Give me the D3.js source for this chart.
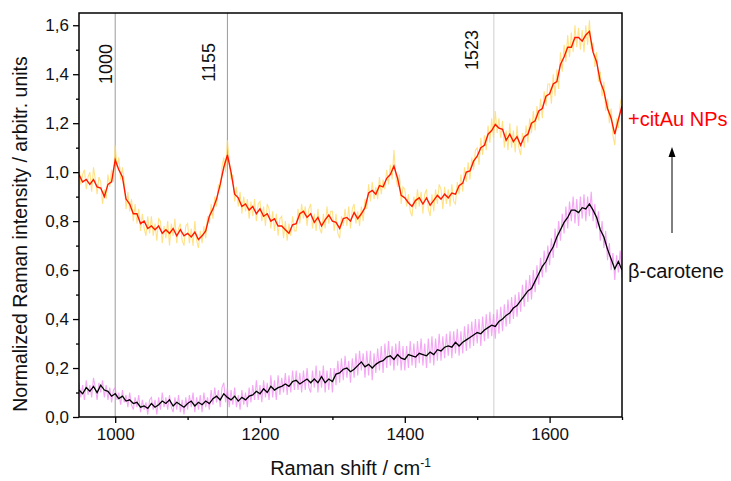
<!DOCTYPE html>
<html>
<head>
<meta charset="utf-8">
<script src="https://cdn.jsdelivr.net/npm/d3@7"></script>
<style>
  body { margin: 0; background: #fff; }
  svg { display: block; }
  text { font-family: "Liberation Sans", Arial, sans-serif; }
</style>
</head>
<body>
<svg id="chart" width="731" height="481"></svg>
<script>
// Sampling grids (cm-1): raw spectra every 2.5 cm-1, smoothed traces every 5 cm-1
const rawShift = d3.range(950, 1700.1, 2.5);
const smoothShift = d3.range(950, 1700.1, 5);

// beta-carotene + citrate-capped Au nanoparticles: raw spectrum
const citAuRaw = [
  1.03,0.95,0.99,1.01,0.93,0.98,1.00,0.92,1.02,0.97,0.91,0.98,0.96,0.87,0.93,0.89,0.99,0.94,1.01,0.96,
  1.11,1.02,1.06,0.97,1.02,0.96,0.85,0.92,0.84,0.89,0.80,0.87,0.79,0.85,0.76,0.83,0.77,0.74,0.82,0.75,
  0.82,0.74,0.79,0.72,0.81,0.80,0.71,0.78,0.73,0.80,0.70,0.79,0.74,0.81,0.71,0.77,0.79,0.72,0.70,0.78,
  0.79,0.71,0.77,0.70,0.80,0.72,0.69,0.76,0.71,0.78,0.73,0.82,0.79,0.87,0.81,0.90,0.86,0.95,0.93,1.02,
  1.06,1.00,1.13,1.05,0.97,0.99,0.88,0.94,0.86,0.92,0.83,0.90,0.84,0.89,0.81,0.88,0.82,0.89,0.80,0.87,
  0.88,0.80,0.86,0.78,0.87,0.85,0.77,0.84,0.76,0.83,0.74,0.81,0.82,0.73,0.80,0.72,0.79,0.74,0.82,0.76,
  0.76,0.85,0.79,0.87,0.81,0.86,0.78,0.85,0.87,0.77,0.83,0.76,0.85,0.77,0.75,0.83,0.77,0.86,0.79,0.84,
  0.84,0.76,0.83,0.75,0.73,0.82,0.78,0.85,0.78,0.86,0.77,0.85,0.87,0.79,0.84,0.78,0.86,0.80,0.89,0.85,
  0.95,0.88,0.96,0.89,0.94,0.89,0.98,0.91,0.97,0.93,1.01,0.95,1.03,0.97,1.09,0.98,0.94,0.99,0.87,0.94,
  0.93,0.86,0.91,0.84,0.82,0.90,0.85,0.93,0.86,0.92,0.83,0.91,0.93,0.85,0.82,0.91,0.84,0.93,0.87,0.95,
  0.93,0.85,0.94,0.87,0.93,0.86,0.95,0.88,0.87,0.96,0.91,0.99,0.92,1.02,0.96,1.04,0.97,1.06,1.01,1.09,
  1.10,1.03,1.14,1.07,1.15,1.09,1.19,1.12,1.22,1.14,1.25,1.16,1.22,1.14,1.21,1.10,1.17,1.09,1.20,1.10,
  1.17,1.08,1.19,1.10,1.07,1.16,1.10,1.19,1.12,1.22,1.16,1.25,1.17,1.27,1.21,1.30,1.22,1.33,1.27,1.36,
  1.36,1.28,1.40,1.31,1.42,1.34,1.49,1.41,1.52,1.45,1.56,1.47,1.57,1.49,1.60,1.51,1.59,1.50,1.58,1.49,
  1.60,1.52,1.62,1.50,1.53,1.43,1.49,1.37,1.41,1.31,1.37,1.25,1.30,1.20,1.26,1.15,1.11,1.22,1.18,1.28,
  1.31
];
// beta-carotene + citrate-capped Au nanoparticles: smoothed trace
const citAuSmooth = [
  0.99,0.96,0.97,0.95,0.97,0.94,0.935,0.90,0.95,0.96,
  1.05,1.01,0.98,0.89,0.87,0.83,0.83,0.79,0.80,0.77,
  0.78,0.765,0.78,0.75,0.765,0.75,0.77,0.74,0.765,0.74,
  0.75,0.735,0.755,0.725,0.74,0.76,0.82,0.85,0.89,0.95,
  1.02,1.07,1.00,0.91,0.895,0.86,0.87,0.845,0.86,0.83,
  0.85,0.82,0.83,0.80,0.81,0.78,0.78,0.765,0.75,0.785,
  0.79,0.83,0.84,0.815,0.83,0.795,0.815,0.78,0.805,0.825,
  0.80,0.795,0.77,0.81,0.815,0.80,0.835,0.81,0.83,0.855,
  0.915,0.925,0.91,0.945,0.94,0.975,0.99,1.025,0.975,0.905,
  0.895,0.875,0.86,0.885,0.895,0.87,0.895,0.865,0.885,0.905,
  0.89,0.91,0.895,0.915,0.91,0.945,0.955,1.00,1.005,1.045,
  1.065,1.10,1.11,1.155,1.17,1.195,1.18,1.175,1.13,1.155,
  1.125,1.145,1.11,1.145,1.155,1.20,1.21,1.25,1.26,1.31,
  1.32,1.36,1.37,1.44,1.47,1.51,1.51,1.55,1.55,1.535,
  1.56,1.575,1.49,1.45,1.37,1.33,1.26,1.22,1.155,1.215,
  1.27
];

// pure beta-carotene: raw spectrum
const caroteneRaw = [
  0.14,0.08,0.13,0.07,0.15,0.09,0.13,0.08,0.16,0.12,0.07,0.14,0.10,0.15,0.08,0.13,0.07,0.12,0.06,0.11,
  0.12,0.07,0.10,0.05,0.11,0.06,0.09,0.04,0.10,0.05,0.03,0.08,0.04,0.09,0.02,0.07,0.03,0.06,0.01,0.07,
  0.08,0.03,0.07,0.01,0.08,0.03,0.10,0.04,0.08,0.03,0.09,0.04,0.02,0.08,0.03,0.09,0.02,0.07,0.01,0.08,
  0.03,0.09,0.04,0.10,0.02,0.08,0.03,0.09,0.02,0.10,0.04,0.08,0.03,0.11,0.05,0.12,0.06,0.11,0.04,0.12,
  0.14,0.06,0.12,0.04,0.11,0.05,0.12,0.04,0.09,0.03,0.11,0.05,0.10,0.04,0.12,0.06,0.13,0.07,0.15,0.07,
  0.13,0.06,0.15,0.08,0.14,0.07,0.17,0.08,0.15,0.07,0.17,0.09,0.16,0.10,0.18,0.09,0.17,0.10,0.19,0.11,
  0.19,0.11,0.18,0.10,0.19,0.11,0.20,0.12,0.10,0.19,0.12,0.21,0.10,0.19,0.12,0.21,0.10,0.19,0.11,0.20,
  0.10,0.20,0.13,0.23,0.14,0.24,0.15,0.25,0.16,0.23,0.14,0.24,0.16,0.26,0.17,0.27,0.19,0.26,0.16,0.27,
  0.17,0.27,0.15,0.26,0.18,0.28,0.19,0.29,0.18,0.30,0.20,0.31,0.21,0.29,0.19,0.30,0.21,0.31,0.19,0.29,
  0.19,0.29,0.20,0.31,0.21,0.30,0.20,0.31,0.22,0.32,0.21,0.30,0.20,0.32,0.22,0.33,0.21,0.32,0.23,0.34,
  0.23,0.33,0.24,0.34,0.25,0.35,0.24,0.35,0.26,0.36,0.25,0.35,0.26,0.37,0.27,0.38,0.28,0.39,0.29,0.40,
  0.30,0.40,0.29,0.41,0.31,0.42,0.32,0.43,0.33,0.42,0.32,0.44,0.34,0.45,0.35,0.46,0.37,0.48,0.38,0.49,
  0.40,0.50,0.41,0.51,0.43,0.54,0.45,0.56,0.47,0.58,0.48,0.60,0.51,0.62,0.54,0.65,0.57,0.68,0.59,0.70,
  0.62,0.73,0.65,0.77,0.69,0.80,0.72,0.83,0.75,0.86,0.77,0.88,0.80,0.90,0.79,0.89,0.78,0.90,0.81,0.91,
  0.80,0.90,0.82,0.92,0.80,0.87,0.77,0.84,0.72,0.80,0.69,0.76,0.64,0.71,0.60,0.67,0.56,0.66,0.59,0.68,
  0.57
];
// pure beta-carotene: smoothed trace
const caroteneSmooth = [
  0.11,0.095,0.12,0.105,0.125,0.10,0.13,0.11,0.105,0.085,
  0.095,0.075,0.085,0.065,0.07,0.055,0.06,0.04,0.045,0.035,
  0.055,0.04,0.05,0.065,0.055,0.07,0.045,0.06,0.05,0.04,
  0.055,0.065,0.045,0.06,0.05,0.065,0.055,0.075,0.085,0.07,
  0.095,0.08,0.07,0.085,0.065,0.08,0.07,0.085,0.09,0.105,
  0.095,0.115,0.10,0.125,0.11,0.12,0.125,0.135,0.125,0.145,
  0.15,0.135,0.145,0.155,0.14,0.155,0.14,0.165,0.14,0.155,
  0.145,0.175,0.18,0.195,0.20,0.185,0.195,0.21,0.225,0.205,
  0.215,0.20,0.215,0.225,0.23,0.245,0.25,0.235,0.255,0.24,
  0.235,0.255,0.25,0.245,0.26,0.255,0.25,0.265,0.255,0.275,
  0.27,0.285,0.29,0.285,0.305,0.29,0.305,0.315,0.325,0.335,
  0.345,0.34,0.355,0.365,0.375,0.37,0.39,0.40,0.415,0.425,
  0.445,0.455,0.475,0.495,0.515,0.525,0.555,0.585,0.615,0.635,
  0.67,0.695,0.735,0.765,0.795,0.815,0.845,0.845,0.835,0.855,
  0.85,0.87,0.845,0.815,0.765,0.735,0.685,0.645,0.605,0.635,
  0.60
];

// marked Raman bands (cm-1)
const bands = [1000, 1155, 1523];
const bandLabelTop = [31, 30, 17];
const bandLabelGap = [3, 12, 16];
const bandLineColor = ["#9a9a9a", "#9a9a9a", "#cfcfcf"];

// axis ticks
const xMajor = [1000, 1200, 1400, 1600];
const xMinor = [1100, 1300, 1500, 1700];
const yMajor = [0, 0.2, 0.4, 0.6, 0.8, 1.0, 1.2, 1.4, 1.6];
const yMinor = [0.1, 0.3, 0.5, 0.7, 0.9, 1.1, 1.3, 1.5];

const W = 731, H = 481;
const m = { left: 79, top: 13, right: 109, bottom: 64 };
const pw = W - m.left - m.right, ph = H - m.top - m.bottom;

const svg = d3.select("#chart");
const g = svg.append("g").attr("transform", `translate(${m.left},${m.top})`);

const x = d3.scaleLinear().domain([950, 1700]).range([0, pw]);
const y = d3.scaleLinear().domain([0, 1.65]).range([ph, 0]);

svg.append("defs").append("clipPath").attr("id", "plot-clip")
  .append("rect").attr("width", pw).attr("height", ph);

// band marker lines with rotated labels
bands.forEach((b, i) => {
  g.append("line")
    .attr("x1", x(b)).attr("x2", x(b))
    .attr("y1", 0).attr("y2", ph)
    .attr("stroke", bandLineColor[i]).attr("stroke-width", 1);
  g.append("text")
    .attr("transform", `translate(${x(b) - bandLabelGap[i]},${bandLabelTop[i]}) rotate(-90)`)
    .attr("text-anchor", "end")
    .attr("font-size", 18)
    .attr("fill", "#111")
    .text(b);
});

const rawLine = d3.line().x((d, i) => x(rawShift[i])).y(d => y(d));
const smoothLine = d3.line().x((d, i) => x(smoothShift[i])).y(d => y(d));
const curves = g.append("g").attr("clip-path", "url(#plot-clip)");

curves.append("path").datum(citAuRaw).attr("d", rawLine)
  .attr("fill", "none").attr("stroke", "#ffd860").attr("stroke-opacity", 0.75)
  .attr("stroke-width", 1.1);
curves.append("path").datum(caroteneRaw).attr("d", rawLine)
  .attr("fill", "none").attr("stroke", "#f08af0").attr("stroke-opacity", 0.75)
  .attr("stroke-width", 1.1);
curves.append("path").datum(citAuSmooth).attr("d", smoothLine)
  .attr("fill", "none").attr("stroke", "#ff1a00").attr("stroke-width", 1.4);
curves.append("path").datum(caroteneSmooth).attr("d", smoothLine)
  .attr("fill", "none").attr("stroke", "#000").attr("stroke-width", 1.3);

// frame
g.append("rect").attr("width", pw).attr("height", ph)
  .attr("fill", "none").attr("stroke", "#000").attr("stroke-width", 1.5);

const comma = v => d3.format(".1f")(v).replace(".", ",");

// x axis
g.append("g").attr("transform", `translate(0,${ph})`)
  .call(d3.axisBottom(x).tickValues(xMajor).tickSize(6).tickPadding(5).tickFormat(d3.format("d")));
g.append("g").attr("transform", `translate(0,${ph})`)
  .call(d3.axisBottom(x).tickValues(xMinor).tickSize(3).tickFormat(""));

// y axis
g.append("g")
  .call(d3.axisLeft(y).tickValues(yMajor).tickSize(6).tickPadding(4).tickFormat(comma));
g.append("g")
  .call(d3.axisLeft(y).tickValues(yMinor).tickSize(3).tickFormat(""));

g.selectAll(".domain").remove();
g.selectAll(".tick line").attr("stroke", "#000").attr("stroke-width", 1.3);
g.selectAll(".tick text").attr("font-size", 17).attr("fill", "#111")
  .style("font-family", '"Liberation Sans", Arial, sans-serif');

// axis titles
const xt = svg.append("text")
  .attr("x", m.left + pw / 2).attr("y", 475)
  .attr("text-anchor", "middle").attr("font-size", 20).attr("fill", "#111");
xt.append("tspan").text("Raman shift / cm");
xt.append("tspan").attr("font-size", 12).attr("dy", -8).text("-1");

svg.append("text")
  .attr("transform", `translate(27,234) rotate(-90)`)
  .attr("text-anchor", "middle").attr("font-size", 19.5).attr("fill", "#111")
  .text("Normalized Raman intensity / arbitr. units");

// series labels and arrow
svg.append("text").attr("x", 628).attr("y", 126)
  .attr("font-size", 20).attr("fill", "#ff0000").text("+citAu NPs");
svg.append("text").attr("x", 628).attr("y", 278)
  .attr("font-size", 20).attr("fill", "#111").text("β-carotene");

svg.append("line").attr("x1", 672).attr("x2", 672).attr("y1", 233).attr("y2", 156)
  .attr("stroke", "#000").attr("stroke-width", 1);
svg.append("path").attr("d", "M672,147 L668.5,157 L675.5,157 Z").attr("fill", "#000");
</script>
</body>
</html>
